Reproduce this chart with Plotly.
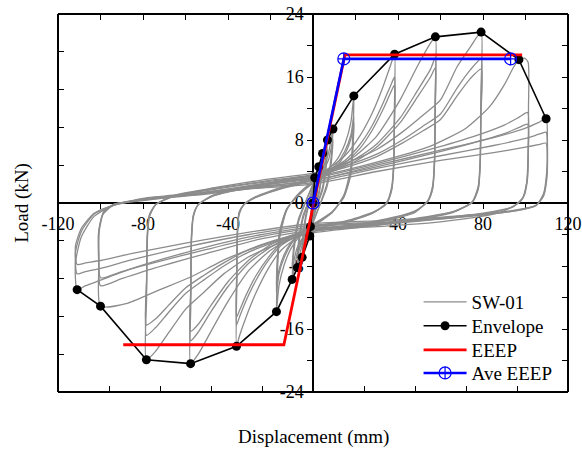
import plotly.graph_objects as go

# ---------------------------------------------------------------
# Cyclic test record of wall SW-01 (displacement in mm, load in kN)
# One entry per loading cycle.
# ---------------------------------------------------------------
g1_x = [0, 0.4, 0.8, 0.5, 0, -0.6, -1.2, -0.8, 0]
g2_x = [0, 1.2, 2.1, 2.7, 2.3, 1.5, 0, -0.8, -1.5, -1.1, -0.5, 0]
g3_x = [0, 2, 3.5, 4.5, 4.0, 2.8, 1.2, 0, -2, -3.8, -5.1, -4.5, -3.2, -1.4, 0]
g4_x = [0, 3, 5.3, 6.8, 6.1, 4.5, 2.2, 0, -3, -5.7, -7.4, -6.6, -4.8, -2.3, 0]
g5_x = [0, 4, 7.2, 9.4, 8.6, 6.5, 3.5, 0, -4, -7.5, -9.8, -9.0, -6.8, -3.6, 0]
g6_x = [0, 6, 11, 15, 17.8, 19.2, 18.8, 17.8, 14.5, 9, 0,
        -6, -10, -13.5, -16, -17.2, -16.8, -15.8, -12.5, -7.5, 0]
g7_x = [0, 8, 15, 22, 28, 33, 36.5, 38.4, 38.3, 38.0, 37.0, 34.5, 28, 15, 0,
        -8, -15, -21, -27, -31.5, -34.5, -36, -35.9, -35.6, -34.8, -32.5, -27, -15, 0]
g8_x = [0, 12, 20, 30, 41, 49, 55.3, 57.6, 57.5, 57.2, 56.3, 54, 48, 35, 18, 0,
        -12, -20, -30, -40, -48, -54, -57.6, -57.5, -57.2, -56.3, -54, -47, -33, -16, 0]
g9_x = [0, 15, 30, 42, 52, 60, 67.8, 74, 79.1, 79.0, 78.7, 77.8, 75, 66, 45, 22, 0,
        -15, -30, -42, -52, -60, -68, -74, -78.4, -78.3, -78.0, -77.0, -74, -65, -45, -22, 0]
g10a_x = [0, 30, 55, 72, 83, 90, 94.5, 96.9, 99.5, 101.2, 101.4, 101.2, 100.5, 98, 88, 60, 30, 0,
          -20, -40, -57.6, -72, -87, -100, -100.8, -101, -99, -94, -80, -60, -30, 0]
g10_x = [0, 30, 55, 75, 90, 97, 101, 101.3, 100.8, 99, 94, 80, 50, 25, 0,
         -25, -50, -75, -90, -100, -100.8, -100.6, -98.5, -94, -80, -55, -25, 0]
g11_x = [0, 30, 60, 85, 100, 106, 109.7, 110.3, 110.0, 108.5, 105, 95, 70, 35, 0,
         -30, -60, -85, -100, -107, -111, -111.8, -109, -103, -94, -80, -57.6, -30, 0]

loop_disp = [
    g1_x, g1_x, g2_x, g2_x, g3_x, g3_x, g4_x, g4_x, g5_x, g5_x,
    g6_x, g6_x, g6_x,
    g7_x, g7_x, g7_x,
    g8_x, g8_x, g8_x,
    g9_x, g9_x, g9_x,
    g10a_x, g10_x, g10_x,
    g11_x, g11_x, g11_x,
]

loop_load = [
    [0.8, 2.0, 3.2, 1.5, -0.8, -2.0, -3.0, -1.4, 0.8],
    [0.6, 1.6, 2.6, 1.2, -0.6, -1.6, -2.5, -1.2, 0.6],
    [1.2, 2.6, 3.6, 4.6, 2.8, 0.6, -1.3, -2.8, -4.2, -2.2, -0.3, 1.2],
    [1.0, 2.2, 3.1, 3.9, 2.3, 0.4, -1.1, -2.4, -3.6, -1.9, -0.2, 1.0],
    [1.6, 3.3, 4.7, 6.3, 4.0, 1.5, -0.3, -1.8, -3.6, -5.1, -6.9, -4.4, -1.7, 0.3, 1.6],
    [1.4, 2.9, 4.0, 5.3, 3.3, 1.1, -0.4, -1.6, -3.2, -4.4, -5.9, -3.7, -1.3, 0.3, 1.4],
    [2.0, 3.8, 5.6, 8.0, 5.2, 2.0, 0, -2.1, -4.0, -5.9, -8.2, -5.3, -2.1, 0, 2.0],
    [1.8, 3.4, 4.8, 6.8, 4.4, 1.6, -0.1, -1.9, -3.6, -5.0, -7.0, -4.5, -1.7, 0.1, 1.8],
    [2.4, 4.2, 6.2, 9.4, 6.0, 2.4, 0, -2.5, -4.4, -6.5, -9.7, -6.2, -2.4, 0, 2.4],
    [2.2, 3.8, 5.4, 8.0, 5.1, 2.0, -0.1, -2.3, -4.0, -5.7, -8.3, -5.3, -2.0, 0.1, 2.2],
    [2.8, 4.0, 5.4, 7.5, 10.2, 13.6, 9.0, 4.5, 1.0, -1.2, -3.0,
     -4.2, -5.6, -7.8, -10.5, -13.8, -9.2, -4.6, -1.0, 1.0, 2.8],
    [2.6, 3.7, 4.9, 6.6, 8.6, 11.0, 7.5, 3.9, 0.8, -1.2, -2.8,
     -3.9, -5.1, -6.9, -9.0, -11.5, -7.8, -4.0, -0.9, 0.9, 2.6],
    [2.5, 3.5, 4.6, 6.2, 8.1, 10.2, 7.0, 3.6, 0.7, -1.1, -2.7,
     -3.7, -4.9, -6.5, -8.5, -10.6, -7.2, -3.7, -0.8, 0.8, 2.5],
    [3.2, 4.5, 6.0, 8.5, 11.5, 14.8, 17.5, 18.9, 12.0, 5.5, 2.0, 0.0, -1.3, -2.5, -3.3,
     -4.5, -6.0, -8.3, -11.5, -14.5, -16.8, -18.2, -11.0, -4.5, -1.5, -0.2, 0.8, 2.0, 3.2],
    [3.0, 4.2, 5.4, 7.4, 9.9, 12.7, 14.9, 16.0, 10.2, 4.8, 1.7, -0.1, -1.3, -2.4, -3.1,
     -4.2, -5.4, -7.3, -9.9, -12.4, -14.4, -15.5, -9.5, -3.9, -1.3, -0.2, 0.7, 1.9, 3.0],
    [2.9, 4.0, 5.1, 6.9, 9.3, 11.9, 14.0, 15.0, 9.6, 4.5, 1.6, -0.1, -1.2, -2.3, -3.0,
     -4.0, -5.1, -6.9, -9.3, -11.7, -13.6, -14.5, -8.9, -3.7, -1.2, -0.2, 0.7, 1.8, 2.9],
    [3.5, 4.8, 6.0, 8.5, 13.1, 17.3, 20.3, 21.1, 14.0, 6.0, 2.2, 0.3, -1.2, -2.2, -3.0, -3.6,
     -4.8, -6.0, -8.5, -12.5, -16.3, -19.2, -20.4, -13.0, -5.0, -1.8, -0.2, 1.0, 2.0, 2.8, 3.5],
    [3.3, 4.5, 5.6, 7.5, 10.8, 14.2, 17.0, 18.5, 12.3, 5.3, 1.9, 0.2, -1.1, -2.1, -2.9, -3.4,
     -4.5, -5.6, -7.6, -10.6, -13.8, -16.4, -17.5, -11.2, -4.4, -1.6, -0.2, 0.9, 1.9, 2.7, 3.3],
    [3.2, 4.3, 5.3, 7.1, 10.2, 13.4, 16.0, 17.2, 11.4, 5.0, 1.8, 0.2, -1.0, -2.0, -2.8, -3.3,
     -4.3, -5.3, -7.2, -10.0, -13.0, -15.4, -16.3, -10.5, -4.1, -1.5, -0.2, 0.9, 1.8, 2.6, 3.2],
    [3.8, 5.0, 6.8, 9.0, 11.2, 13.1, 17.3, 19.8, 21.7, 14.0, 6.0, 2.2, 0.2, -1.2, -2.3, -3.1, -3.8,
     -5.0, -6.8, -9.0, -11.5, -13.5, -16.5, -18.8, -19.9, -12.0, -5.0, -1.8, -0.2, 1.0, 2.0, 3.0, 3.8],
    [3.6, 4.7, 6.2, 8.0, 9.8, 11.3, 14.6, 16.9, 18.3, 11.8, 5.2, 1.9, 0.1, -1.1, -2.2, -3.0, -3.6,
     -4.7, -6.2, -8.0, -9.9, -11.5, -13.9, -15.8, -16.8, -10.2, -4.3, -1.6, -0.2, 0.9, 1.9, 2.8, 3.6],
    [3.5, 4.5, 5.9, 7.6, 9.2, 10.6, 13.6, 15.8, 17.0, 11.0, 4.9, 1.8, 0.1, -1.1, -2.1, -2.9, -3.5,
     -4.5, -5.9, -7.6, -9.3, -10.8, -13.0, -14.7, -15.5, -9.5, -4.0, -1.5, -0.2, 0.9, 1.8, 2.7, 3.5],
    [3.3, 5.2, 7.2, 9.5, 12.2, 15.0, 17.3, 18.2, 18.4, 17.9, 12.0, 6.0, 2.5, 0.3, -1.2, -2.4, -3.0, -3.5,
     -5.0, -7.0, -9.4, -11.0, -12.7, -13.1, -8.0, -4.0, -1.5, -0.3, 0.3, 1.0, 2.2, 3.3],
    [3.1, 5.0, 6.8, 8.4, 9.9, 10.9, 11.5, 7.0, 3.0, 0.8, -0.5, -1.4, -2.3, -2.9, -3.4,
     -4.6, -6.4, -8.3, -9.6, -10.5, -7.0, -3.5, -1.2, -0.2, 0.4, 1.1, 2.2, 3.1],
    [2.9, 4.6, 6.2, 7.6, 8.8, 9.6, 10.0, 6.2, 2.7, 0.7, -0.5, -1.3, -2.2, -2.8, -3.2,
     -4.3, -5.9, -7.6, -8.7, -9.5, -6.3, -3.2, -1.1, -0.2, 0.4, 1.0, 2.0, 2.9],
    [2.8, 4.8, 6.7, 8.3, 9.5, 10.2, 10.7, 8.0, 4.0, 1.2, -0.3, -1.0, -1.8, -2.5, -3.0,
     -4.3, -6.3, -8.3, -9.8, -10.5, -11.0, -7.6, -4.3, -1.7, -0.3, 0.6, 1.2, 2.0, 2.8],
    [2.6, 4.4, 6.0, 7.3, 8.2, 8.7, 9.0, 6.8, 3.5, 1.0, -0.3, -1.0, -1.7, -2.4, -2.8,
     -4.0, -5.6, -7.2, -8.3, -8.7, -9.0, -6.3, -3.6, -1.4, -0.3, 0.5, 1.1, 1.9, 2.6],
    [2.4, 4.0, 5.4, 6.4, 7.1, 7.4, 7.6, 5.8, 3.0, 0.9, -0.3, -0.9, -1.6, -2.2, -2.6,
     -3.7, -5.1, -6.4, -7.3, -7.6, -7.8, -5.5, -3.2, -1.3, -0.3, 0.5, 1.0, 1.8, 2.4],
]

# Envelope (peak load of each displacement level)
env_disp = [-111.0, -100.0, -78.4, -57.6, -36.0, -17.2, -9.8, -7.4, -5.1, -1.5, -1.2, 0.0,
            0.8, 2.7, 4.5, 6.8, 9.4, 19.2, 38.4, 57.6, 79.1, 96.9, 109.7]
env_load = [-11.0, -13.1, -19.9, -20.4, -18.2, -13.8, -9.7, -8.2, -6.9, -4.2, -3.0, 0.0,
            3.2, 4.6, 6.3, 8.0, 9.4, 13.6, 18.9, 21.1, 21.7, 18.2, 10.7]

# Equivalent energy elastic-plastic curve
eeep_disp = [-89.3, -13.7, 15.0, 98.4]
eeep_load = [-18.0, -18.0, 18.8, 18.8]

# Averaged EEEP curve
ave_disp = [0.0, 14.5, 93.0]
ave_load = [0.0, 18.3, 18.3]

x_labels = [-120, -80, -40, 40, 80, 120]
y_labels = [-24, -16, -8, 0, 8, 16, 24]

FONT = "Liberation Serif"
GRAY = "rgb(140,140,140)"

fig = go.Figure()

for i, (xs, ys) in enumerate(zip(loop_disp, loop_load)):
    fig.add_trace(go.Scatter(
        x=xs, y=ys, mode="lines", name="SW-01",
        line=dict(color=GRAY, width=1.3, shape="spline", smoothing=0.6),
        legend="legend", showlegend=(i == 0), hoverinfo="skip"))

fig.add_trace(go.Scatter(
    x=env_disp, y=env_load, mode="lines+markers", name="Envelope",
    line=dict(color="black", width=1.6), legend="legend2",
    marker=dict(color="black", size=9, symbol="circle")))

fig.add_trace(go.Scatter(
    x=eeep_disp, y=eeep_load, mode="lines", name="EEEP", legend="legend3",
    line=dict(color="rgb(255,0,0)", width=2.8)))

fig.add_trace(go.Scatter(
    x=ave_disp, y=ave_load, mode="lines+markers", name="Ave EEEP", legend="legend4",
    line=dict(color="rgb(0,0,255)", width=2.6),
    marker=dict(color="rgb(0,0,255)", size=12, symbol="circle-cross-open",
                line=dict(width=1.2))))

x_ticks = list(range(-120, 121, 20))
y_ticks = list(range(-24, 25, 4))
frame = dict(showline=True, linecolor="black", linewidth=1.5, showgrid=False,
             zeroline=False, showticklabels=False, ticks="inside", ticklen=5,
             tickwidth=1.2, tickcolor="black", automargin=False)


def legend_at(y):
    return dict(x=0.707, y=y, xanchor="left", yanchor="middle",
                bgcolor="rgba(0,0,0,0)", borderwidth=0, itemwidth=43,
                font=dict(family=FONT, size=19))


fig.update_layout(
    width=582, height=452,
    margin=dict(l=58, r=14, t=14, b=60),
    paper_bgcolor="white", plot_bgcolor="white",
    font=dict(family=FONT, size=18, color="black"),
    xaxis=dict(range=[-120, 120], anchor="free", position=0.5, automargin=False,
               showline=True, linecolor="black", linewidth=1.5,
               showgrid=False, zeroline=False, ticks="outside", ticklen=5,
               tickwidth=1.2, tickcolor="black", tickvals=x_ticks,
               ticktext=[str(v) if v in x_labels else "" for v in x_ticks],
               layer="below traces", tickfont=dict(family=FONT, size=18)),
    yaxis=dict(range=[-24, 24], anchor="free", position=0.5, automargin=False,
               showline=True, linecolor="black", linewidth=1.5,
               showgrid=False, zeroline=False, ticks="outside", ticklen=5,
               tickwidth=1.2, tickcolor="black", tickvals=y_ticks,
               ticktext=[str(v) if v in y_labels else "" for v in y_ticks],
               layer="below traces", tickfont=dict(family=FONT, size=18)),
    xaxis2=dict(frame, range=[-120, 120], overlaying="x", anchor="free",
                position=1, side="top", dtick=20, tick0=0),
    xaxis3=dict(frame, range=[-120, 120], overlaying="x", anchor="free",
                position=0, side="bottom", dtick=24, tick0=0),
    yaxis2=dict(frame, range=[-24, 24], overlaying="y", anchor="free",
                position=0, side="left", dtick=4.8, tick0=0),
    yaxis3=dict(frame, range=[-24, 24], overlaying="y", anchor="free",
                position=1, side="right", dtick=4, tick0=0),
    legend=legend_at(0.238),
    legend2=legend_at(0.175),
    legend3=legend_at(0.111),
    legend4=legend_at(0.050),
    annotations=[
        dict(text="Load (kN)", xref="paper", yref="paper", x=-0.071, y=0.5,
             xanchor="center", yanchor="middle",
             textangle=-90, showarrow=False, font=dict(family=FONT, size=19)),
        dict(text="Displacement (mm)", xref="paper", yref="paper", x=0.5, y=-0.119,
             xanchor="center", yanchor="middle",
             showarrow=False, font=dict(family=FONT, size=19)),
    ],
)

# empty traces so the frame axes are laid out
for xa, ya in (("x2", "y2"), ("x3", "y3")):
    fig.add_trace(go.Scatter(x=[], y=[], xaxis=xa, yaxis=ya, showlegend=False,
                             hoverinfo="skip"))

fig.write_html("out.html")
